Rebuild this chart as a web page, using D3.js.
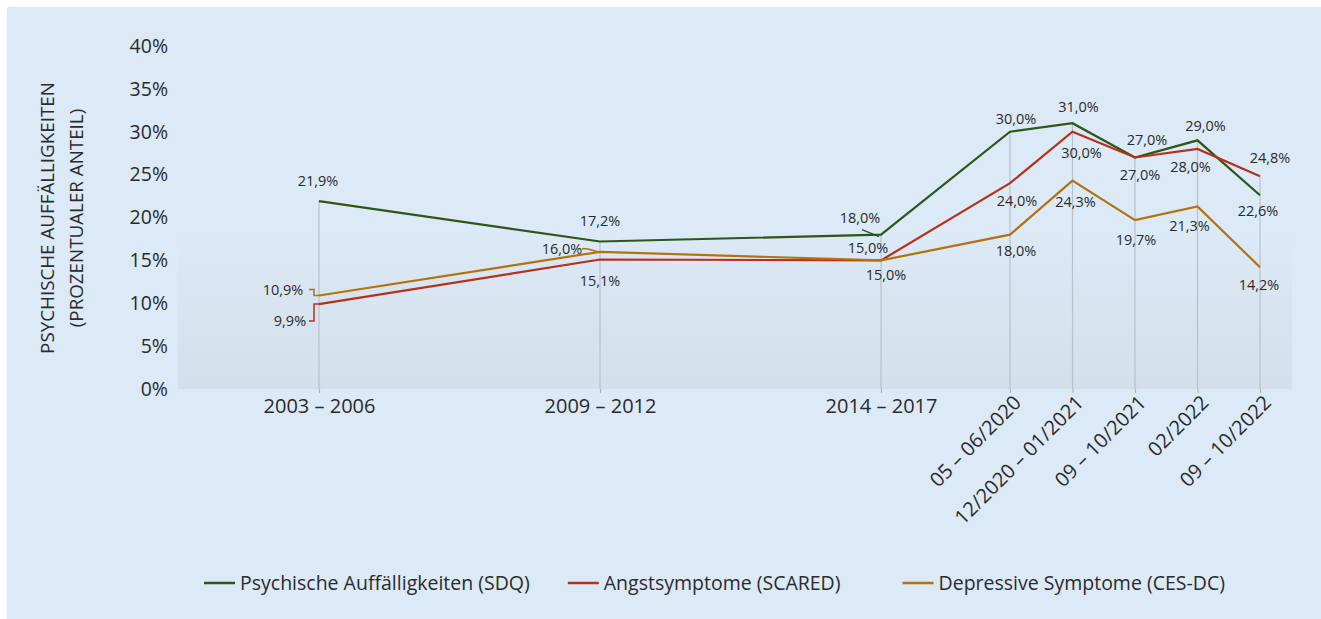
<!DOCTYPE html>
<html lang="de">
<head>
<meta charset="utf-8">
<script src="https://cdn.jsdelivr.net/npm/d3@7/dist/d3.min.js"></script>
<style>
  html, body { margin: 0; padding: 0; background: #ffffff; }
  svg { display: block; }
  text { font-family: "Open Sans", "Noto Sans", sans-serif; fill: #2b2b2b; }
</style>
</head>
<body>
<svg id="chart" width="1321" height="619"></svg>
<script>
// Survey waves (x axis)
const waves = [
  "2003 – 2006", "2009 – 2012", "2014 – 2017",
  "05 – 06/2020", "12/2020 – 01/2021", "09 – 10/2021", "02/2022", "09 – 10/2022"
];

// Share of children and adolescents with symptoms, in percent
const sdqValues    = [21.9, 17.2, 18.0, 30.0, 31.0, 27.0, 29.0, 22.6];
const scaredValues = [9.9, 15.1, 15.0, 24.0, 30.0, 27.0, 28.0, 24.8];
const cesdcValues  = [10.9, 16.0, 15.0, 18.0, 24.3, 19.7, 21.3, 14.2];

const seriesNames = [
  "Psychische Auffälligkeiten (SDQ)",
  "Angstsymptome (SCARED)",
  "Depressive Symptome (CES-DC)"
];

const yTicks = [0, 5, 10, 15, 20, 25, 30, 35, 40];

// ---- styling / layout ----
const colors = ["#2b5718", "#b6301b", "#b3720c"];
const W = 1321, H = 619;
const plot = { left: 178, right: 1292, top: 46, bottom: 389 };
const legendGaps = [38, 62];

// Offsets of the value labels relative to their points ([dx, dy], label centre)
const labelOffsets = [
  [[-1, -20], [0, -21], [-21, -17], [6, -13], [6, -16], [12, -18], [8, -14], [-2, 16]],
  [[-29, 17], [0, 21], [-13, -12], [7, 18], [9, 21], [5, 17], [-7, 18], [10, -18]],
  [[-36, -6], [-38, -3], [5, 15], [6, 16], [3, 21], [1, 20], [-8, 20], [-1, 18]]
];

const svg = d3.select("#chart");

// panel background
svg.append("rect")
  .attr("x", 7).attr("y", 7).attr("width", W - 7).attr("height", H - 7)
  .attr("fill", "#dce9f6");

const defs = svg.append("defs");
const grad = defs.append("linearGradient")
  .attr("id", "plotShade").attr("x1", 0).attr("y1", 0).attr("x2", 0).attr("y2", 1);
grad.append("stop").attr("offset", "0.55").attr("stop-color", "#dce9f6");
grad.append("stop").attr("offset", "1").attr("stop-color", "#d3dfea");

svg.append("rect")
  .attr("x", plot.left).attr("y", plot.top)
  .attr("width", plot.right - plot.left).attr("height", plot.bottom - plot.top)
  .attr("fill", "url(#plotShade)");

// scales: the three long survey periods share wider spacing than the pandemic waves
const x = d3.scaleLinear()
  .domain([0, 1, 2, 3, 7])
  .range([319, 600, 881, 1010, 1260]);
const y = d3.scaleLinear().domain([0, 40]).range([plot.bottom, plot.top]);

const de = d3.formatLocale({ decimal: ",", thousands: ".", grouping: [3], currency: ["", " €"] });
const fmt = v => de.format(".1f")(v) + "%";

const series = [sdqValues, scaredValues, cesdcValues];

// drop lines from the highest value of each wave to the axis
svg.append("g").selectAll("line")
  .data(waves.map((w, i) => i))
  .join("line")
  .attr("x1", i => x(i)).attr("x2", i => x(i))
  .attr("y1", i => y(d3.max(series, s => s[i])))
  .attr("y2", plot.bottom)
  .attr("stroke", "#b7c1cb").attr("stroke-width", 1.2);

// y axis
const yAxis = svg.append("g")
  .attr("transform", `translate(${plot.left},0)`)
  .call(d3.axisLeft(y).tickValues(yTicks).tickFormat(d => d + "%").tickSize(0).tickPadding(10));
yAxis.select(".domain").remove();
yAxis.selectAll("text")
  .style("font-family", "'Open Sans', sans-serif")
  .style("font-size", "19.5px").attr("fill", "#2b2b2b");

// x axis
const xAxis = svg.append("g")
  .attr("transform", `translate(0,${plot.bottom})`)
  .call(d3.axisBottom(x).tickValues(waves.map((w, i) => i))
    .tickFormat(i => waves[i]).tickSize(4).tickPadding(6));
xAxis.select(".domain").remove();
xAxis.selectAll(".tick line").attr("stroke", "#aab4be").attr("stroke-width", 1.2);
xAxis.selectAll("text")
  .style("font-family", "'Open Sans', sans-serif")
  .style("font-size", "20px").attr("fill", "#2b2b2b");
xAxis.selectAll(".tick text")
  .filter(i => i >= 3)
  .attr("text-anchor", "end")
  .attr("transform", "translate(7,10) rotate(-45)")
  .attr("y", 0).attr("dy", "0.35em");

// lines
const line = d3.line().x((d, i) => x(i)).y(d => y(d));
svg.append("g").selectAll("path")
  .data(series)
  .join("path")
  .attr("d", d => line(d))
  .attr("fill", "none")
  .attr("stroke", (d, k) => colors[k])
  .attr("stroke-width", 2.2);

// leader lines for labels set beside the points
const leaders = [
  { s: 2, i: 0 }, { s: 1, i: 0 }, { s: 2, i: 1 }, { s: 0, i: 2 }
];
const leaderG = svg.append("g").attr("fill", "none").attr("stroke-width", 1.5);
leaders.forEach(({ s, i }) => {
  const px = x(i), py = y(series[s][i]);
  const [dx, dy] = labelOffsets[s][i];
  const ly = py + dy;
  let p;
  if (s === 0) {
    p = `M${px - 19},${ly + 12} L${px - 2},${py + 2}`;
  } else if (i === 0) {
    p = `M${px - 10},${ly} H${px - 5} V${py} H${px}`;
  } else {
    p = `M${px - 18},${ly} H${px - 13} L${px - 2},${py}`;
  }
  leaderG.append("path").attr("d", p).attr("stroke", colors[s]);
});

// value labels
const labels = [];
series.forEach((vals, s) => vals.forEach((v, i) => labels.push({ s, i, v })));
svg.append("g").selectAll("text")
  .data(labels)
  .join("text")
  .attr("x", d => x(d.i) + labelOffsets[d.s][d.i][0])
  .attr("y", d => y(d.v) + labelOffsets[d.s][d.i][1])
  .attr("dy", "0.35em")
  .attr("text-anchor", "middle")
  .style("font-size", "14.5px")
  .text(d => fmt(d.v));

// y axis title
const yTitle = svg.append("text")
  .attr("transform", "translate(62,218) rotate(-90)")
  .attr("text-anchor", "middle")
  .style("font-size", "18.8px");
yTitle.append("tspan").attr("x", 0).attr("dy", "-0.45em").text("PSYCHISCHE AUFFÄLLIGKEITEN");
yTitle.append("tspan").attr("x", 0).attr("dy", "1.55em").text("(PROZENTUALER ANTEIL)");

// legend
const legend = svg.append("g").attr("transform", "translate(204,583)");
let lx = 0;
seriesNames.forEach((name, k) => {
  const g = legend.append("g").attr("transform", `translate(${lx},0)`);
  g.append("line").attr("x1", 0).attr("x2", 31).attr("y1", 0).attr("y2", 0)
    .attr("stroke", colors[k]).attr("stroke-width", 2.5);
  const t = g.append("text").attr("x", 36).attr("dy", "0.35em")
    .style("font-size", "19.5px").text(name);
  lx += 36 + t.node().getComputedTextLength() + (legendGaps[k] || 0);
});
</script>
</body>
</html>
